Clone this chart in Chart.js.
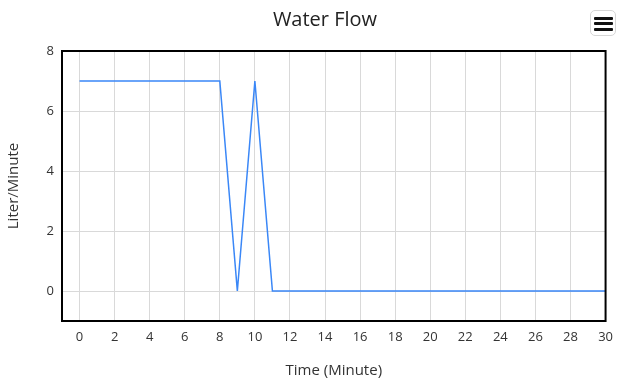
<!DOCTYPE html>
<html>
<head>
<meta charset="utf-8">
<title>Water Flow</title>
<script src="https://cdn.jsdelivr.net/npm/chart.js@4/dist/chart.umd.min.js"></script>
<style>
  html, body { margin: 0; padding: 0; background: #fff; }
  .wrap { position: relative; width: 621px; height: 386px; }
  #chart { display: block; }
  .menu {
    position: absolute; left: 590px; top: 10px; width: 24px; height: 24px;
    border: 1px solid #d6d6d6; border-radius: 5px; background: #fff; box-sizing: content-box;
  }
  .menu span {
    position: absolute; left: 3px; width: 19px; height: 3px; background: #111; border-radius: 1px;
  }
</style>
</head>
<body>
<div class="wrap">
  <canvas id="chart" width="621" height="386"></canvas>
  <div class="menu"><span style="top:6px"></span><span style="top:11px"></span><span style="top:17px"></span></div>
</div>
<script>
const minutes = [0, 1, 2, 3, 4, 5, 6, 7, 8, 9, 10, 11, 12, 13, 14, 15, 16, 17, 18, 19, 20, 21, 22, 23, 24, 25, 26, 27, 28, 29, 30];
const flow = [7, 7, 7, 7, 7, 7, 7, 7, 7, 0, 7, 0, 0, 0, 0, 0, 0, 0, 0, 0, 0, 0, 0, 0, 0, 0, 0, 0, 0, 0, 0];
const xTicks = [0, 2, 4, 6, 8, 10, 12, 14, 16, 18, 20, 22, 24, 26, 28, 30];
const yTicks = [0, 2, 4, 6, 8];

const FONT = "'Open Sans', 'DejaVu Sans', sans-serif";

// frame round the plot + the title text
const framePlugin = {
  id: 'frame',
  afterDatasetsDraw(chart) {
    const { ctx, chartArea: a } = chart;
    ctx.save();
    ctx.strokeStyle = '#000';
    ctx.lineWidth = 2;
    ctx.strokeRect(a.left, a.top, a.right - a.left, a.bottom - a.top);
    ctx.restore();
  },
  afterDraw(chart) {
    const { ctx } = chart;
    ctx.save();
    ctx.fillStyle = '#222';
    ctx.font = '20px ' + FONT;
    ctx.textAlign = 'center';
    ctx.textBaseline = 'middle';
    ctx.fillText('Water Flow', 325, 20);
    ctx.restore();
  }
};

new Chart(document.getElementById('chart'), {
  type: 'line',
  data: {
    datasets: [{
      data: minutes.map((m, i) => ({ x: m, y: flow[i] })),
      borderColor: '#3a87f7',
      borderWidth: 1.5,
      pointRadius: 0,
      tension: 0,
      fill: false
    }]
  },
  options: {
    responsive: false,
    animation: false,
    layout: { padding: { top: 51, right: 15, bottom: 0, left: 0 } },
    plugins: { legend: { display: false }, tooltip: { enabled: false }, title: { display: false } },
    scales: {
      x: {
        type: 'linear',
        min: -1,
        max: 30,
        afterBuildTicks: s => { s.ticks = xTicks.map(v => ({ value: v })); },
        afterFit: s => { s.height = 65; },
        grid: { color: '#d9d9d9', lineWidth: 1, drawTicks: false },
        border: { display: false },
        ticks: { padding: 8, color: '#333', font: { family: FONT, size: 13 }, maxRotation: 0 },
        title: { display: true, text: 'Time (Minute)', color: '#333', font: { family: FONT, size: 15 }, padding: { top: 0, bottom: 6 } }
      },
      y: {
        min: -1,
        max: 8,
        afterBuildTicks: s => { s.ticks = yTicks.map(v => ({ value: v })); },
        afterFit: s => { s.width = 62; },
        grid: { color: '#d9d9d9', lineWidth: 1, drawTicks: false },
        border: { display: false },
        ticks: { padding: 8, color: '#333', font: { family: FONT, size: 13 } },
        title: { display: true, text: 'Liter/Minute', color: '#333', font: { family: FONT, size: 15 }, padding: { top: 5, bottom: 0 } }
      }
    }
  },
  plugins: [framePlugin]
});
</script>
</body>
</html>
